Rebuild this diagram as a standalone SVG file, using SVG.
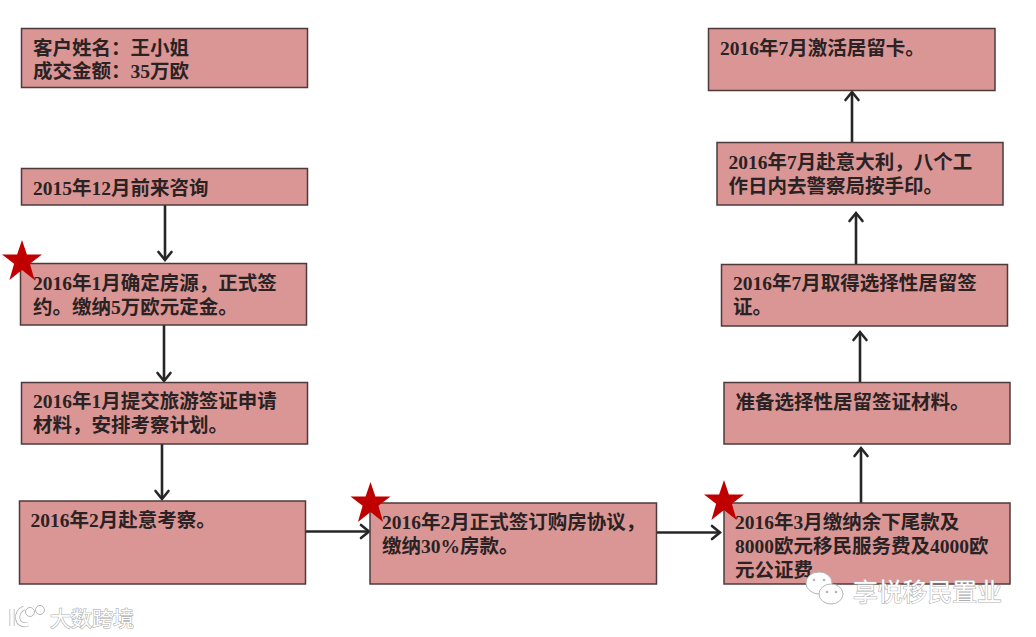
<svg xmlns="http://www.w3.org/2000/svg" width="1036" height="637" viewBox="0 0 1036 637">
<style>
.box{fill:#d99694;stroke:#4d3b3c;stroke-width:1.5}
.t{font-family:"Liberation Serif","Noto Sans CJK SC",serif;font-weight:700;font-size:19.5px;fill:#2b2224}
.c{fill:none;stroke:#262626;stroke-width:2.6}
.star{fill:#c00000}
.wm{font-family:"Noto Sans CJK SC",sans-serif;fill:#fff;stroke:#b0b0b0;stroke-width:1.2;paint-order:stroke}
.lg{fill:#fff;stroke:#b5b5b5;stroke-width:1}
.dot{fill:#b5b5b5}
</style>
<defs>
<marker id="a" markerUnits="userSpaceOnUse" markerWidth="20" markerHeight="20" refX="14" refY="10" orient="auto">
<path d="M6 3.500L14 10L6 16.500" fill="none" stroke="#262626" stroke-width="2.600" stroke-linecap="round"/>
</marker>
<polygon id="s" points="0,-21 4.900,-6.500 20,-6.500 7.900,2.800 12.600,19 0,9 -12.600,19 -7.900,2.800 -20,-6.500 -4.900,-6.500"/>
</defs>
<rect width="1036" height="637" fill="#fff"/>
<g id="connectors" class="c">
<path d="M165 205V260" marker-end="url(#a)"/>
<path d="M164 325V381" marker-end="url(#a)"/>
<path d="M162 444V499" marker-end="url(#a)"/>
<path d="M305 531.500H369" marker-end="url(#a)"/>
<path d="M656 532.500H720" marker-end="url(#a)"/>
<path d="M861 503V448" marker-end="url(#a)"/>
<path d="M860 382V332" marker-end="url(#a)"/>
<path d="M856 264V213" marker-end="url(#a)"/>
<path d="M852 142V92" marker-end="url(#a)"/>
</g>
<g id="n1"><rect class="box" x="21.500" y="28.500" width="286" height="59"/><text class="t"><tspan x="33" y="54.500">客户姓名：王小姐</tspan><tspan x="33" y="78">成交金额：35万欧</tspan></text></g>
<g id="n2"><rect class="box" x="21.500" y="168.500" width="286" height="36.500"/><text class="t" x="33" y="194.500">2015年12月前来咨询</text></g>
<g id="n3"><rect class="box" x="20.500" y="263.500" width="286" height="61.500"/><text class="t"><tspan x="33" y="290">2016年1月确定房源，正式签</tspan><tspan x="33" y="313.500">约。缴纳5万欧元定金。</tspan></text><use href="#s" class="star" x="22" y="261"/></g>
<g id="n4"><rect class="box" x="21.500" y="382.500" width="286" height="61.500"/><text class="t"><tspan x="33" y="408">2016年1月提交旅游签证申请</tspan><tspan x="33" y="431.500">材料，安排考察计划。</tspan></text></g>
<g id="n5"><rect class="box" x="19.500" y="501" width="286" height="83"/><text class="t" x="30.500" y="527">2016年2月赴意考察。</text></g>
<g id="n6"><rect class="box" x="370" y="503" width="286.500" height="81"/><text class="t"><tspan x="382" y="529">2016年2月正式签订购房协议，</tspan><tspan x="382" y="552.500">缴纳30%房款。</tspan></text><use href="#s" class="star" x="370.500" y="503"/></g>
<g id="n7"><rect class="box" x="724" y="503" width="286" height="81"/><text class="t"><tspan x="735" y="529">2016年3月缴纳余下尾款及</tspan><tspan x="735" y="553">8000欧元移民服务费及4000欧</tspan><tspan x="735" y="576.500">元公证费。</tspan></text><use href="#s" class="star" x="724" y="501"/></g>
<g id="n8"><rect class="box" x="724" y="382.500" width="286" height="61.500"/><text class="t" x="735.500" y="408.500">准备选择性居留签证材料。</text></g>
<g id="n9"><rect class="box" x="721.500" y="264.500" width="286" height="61.500"/><text class="t"><tspan x="733" y="290">2016年7月取得选择性居留签</tspan><tspan x="733" y="314">证。</tspan></text></g>
<g id="n10"><rect class="box" x="717" y="142.500" width="286" height="62.500"/><text class="t"><tspan x="728.500" y="169">2016年7月赴意大利，八个工</tspan><tspan x="728.500" y="193">作日内去警察局按手印。</tspan></text></g>
<g id="n11"><rect class="box" x="708.500" y="28.500" width="286.500" height="62"/><text class="t" x="720" y="54.500">2016年7月激活居留卡。</text></g>
<g id="wm1">
<path d="M12 609V626M24 608C14 612 16 628 28 624" fill="none" stroke="#b0b0b0" stroke-width="5"/>
<path d="M12 609V626M24 608C14 612 16 628 28 624" fill="none" stroke="#fff" stroke-width="3.500"/>
<circle class="lg" cx="30" cy="612" r="4.500"/><circle class="lg" cx="40" cy="610" r="4.500"/>
<text class="wm" x="50" y="626" font-size="21">大数跨境</text>
</g>
<g id="wm2">
<ellipse class="lg" cx="819" cy="583" rx="13" ry="11"/>
<ellipse class="lg" cx="831" cy="594" rx="12" ry="10"/>
<circle class="dot" cx="814" cy="580" r="1.300"/><circle class="dot" cx="824" cy="580" r="1.300"/><circle class="dot" cx="827" cy="592" r="1.300"/><circle class="dot" cx="836" cy="592" r="1.300"/>
<text class="wm" x="853" y="601" font-size="24.800">享悦移民置业</text>
</g>
</svg>
